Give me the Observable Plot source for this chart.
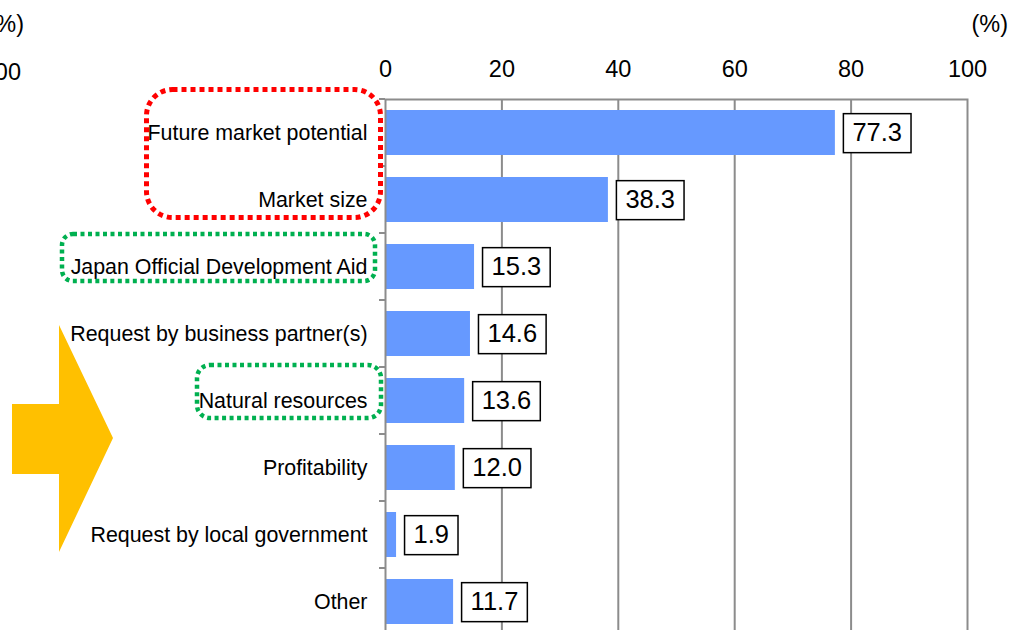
<!DOCTYPE html>
<html><head><meta charset="utf-8">
<script src="https://cdn.jsdelivr.net/npm/d3@7"></script>
<script src="https://cdn.jsdelivr.net/npm/@observablehq/plot@0.6"></script>
<style>
html,body{margin:0;padding:0;background:#fff;overflow:hidden;}
#chart{position:relative;width:1011px;height:630px;}
</style></head><body><div id="chart"></div>
<script>
const categories = ["Future market potential","Market size","Japan Official Development Aid","Request by business partner(s)","Natural resources","Profitability","Request by local government","Other"];
const values = [77.3,38.3,15.3,14.6,13.6,12.0,1.9,11.7];
const xTicks = [0,20,40,60,80,100];
const gridTicks = [20,40,60,80];
const unitLabel = "(%)";
const cutOffTick = "00";
const highlightRed = [["Future market potential","Market size"]];
const highlightGreen = [["Japan Official Development Aid"],["Natural resources"]];

const data = categories.map((c,i)=>({category:c, value:values[i]}));
const FONT = "'Liberation Sans', Arial, sans-serif";
const GREY = "#8c8c8c";

const chart = Plot.plot({
  width:1011, height:635, marginLeft:385, marginRight:44, marginTop:99, marginBottom:0,
  style:{fontFamily:FONT, background:"white", color:"black", overflow:"visible"},
  x:{domain:[0,100]},
  y:{domain:categories, paddingInner:0.33, paddingOuter:0.165},
  marks:[
    Plot.gridX(gridTicks,{stroke:GREY, strokeOpacity:1, strokeWidth:2}),
    Plot.barX(data,{x:"value", y:"category", fill:"#6699FF"}),
    Plot.frame({stroke:GREY, strokeWidth:2}),
    Plot.axisX(xTicks,{anchor:"top", tickSize:0, tickPadding:23, fontSize:23.5, label:null, tickFormat:d=>String(d)}),
    Plot.axisY({tickSize:0, tickPadding:18, fontSize:21.4, label:null}),
    Plot.text(data,{x:"value", y:"category", text:d=>d.value.toFixed(1), dx:17, textAnchor:"start", fontSize:25.5, fill:"black"})
  ]
});
document.getElementById("chart").append(chart);

const ns = "http://www.w3.org/2000/svg";
const svg = d3.select(chart);
const xs = chart.scale("x"), ys = chart.scale("y");
const bw = ys.bandwidth;
const center = c => ys.apply(c) + bw/2;
const step = center(categories[1]) - center(categories[0]);
const x0 = xs.apply(0);

// boundary ticks on the category axis
const tg = svg.append("g");
for (let i = 0; i <= categories.length; i++) {
  const yb = center(categories[0]) - step/2 + i*step;
  tg.append("line").attr("x1", x0-6).attr("x2", x0).attr("y1", yb).attr("y2", yb)
    .attr("stroke", GREY).attr("stroke-width", 2);
}

// boxes behind value labels
svg.selectAll('g[aria-label="text"] text').each(function(){
  const b = this.getBBox();
  const r = document.createElementNS(ns, "rect");
  const h = 39, padX = 9;
  r.setAttribute("x", b.x - padX);
  r.setAttribute("width", b.width + 2*padX);
  r.setAttribute("y", b.y + b.height/2 - h/2 + 1);
  r.setAttribute("height", h);
  r.setAttribute("fill", "white");
  r.setAttribute("stroke", "black");
  r.setAttribute("stroke-width", 1.5);
  const t = this.getAttribute("transform");
  if (t) r.setAttribute("transform", t);
  this.parentNode.insertBefore(r, this);
});

// unit labels
const ug = svg.append("g").attr("font-family", FONT).attr("font-size", 23.5).attr("fill", "black");
ug.append("text").attr("x", 1008).attr("y", 32).attr("text-anchor", "end").text(unitLabel);
ug.append("text").attr("x", 24).attr("y", 32).attr("text-anchor", "end").text(unitLabel);
ug.append("text").attr("x", 21).attr("y", 80).attr("text-anchor", "end").text(cutOffTick);

// dotted highlight boxes (annotations)
const ag = svg.append("g").attr("fill", "none");
function dotted(first, last, left, right, above, below, color, sw, dash, rx) {
  const top = center(first) - above, bottom = center(last) + below;
  ag.append("rect").attr("x", left).attr("y", top).attr("width", right-left).attr("height", bottom-top)
    .attr("rx", rx).attr("stroke", color).attr("stroke-width", sw).attr("stroke-dasharray", dash);
}
dotted(highlightRed[0][0], highlightRed[0][1], 146.5, 380.5, 43, 18, "#FF0000", 5, "5 4", 26);
dotted(highlightGreen[0][0], highlightGreen[0][0], 62, 375, 32.5, 14.5, "#00B050", 4.5, "4 3.5", 11);
dotted(highlightGreen[1][0], highlightGreen[1][0], 197, 381, 35.5, 17.5, "#00B050", 4.5, "4 3.5", 13);

// yellow arrow (decoration)
const ay = (center(categories[4]) + center(categories[5]))/2 + 4;
svg.append("polygon")
  .attr("points", [[12,ay-34],[59,ay-34],[59,ay-113],[113,ay],[59,ay+114],[59,ay+36],[12,ay+36]].map(p=>p.join(",")).join(" "))
  .attr("fill", "#FFC000");
</script></body></html>
